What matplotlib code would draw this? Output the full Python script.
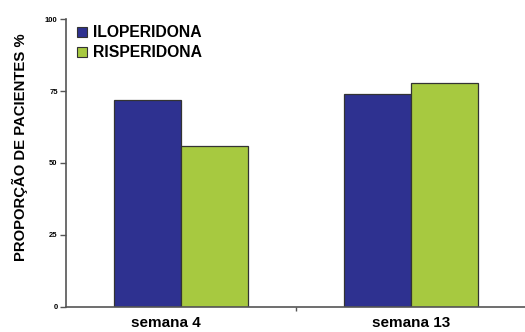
import matplotlib
matplotlib.use("Agg")
import matplotlib.pyplot as plt
import matplotlib.transforms as mtransforms
import numpy as np
from matplotlib.lines import Line2D

plt.rcParams['font.family'] = ['Liberation Sans', 'DejaVu Sans']

categories = ["semana 4", "semana 13"]
series_names = ["ILOPERIDONA", "RISPERIDONA"]
iloperidona = [72, 74]
risperidona = [56, 78]
yticks = [0, 25, 50, 75, 100]
colors = ["#2E3190", "#A7C940"]

fig = plt.figure(figsize=(5.25, 3.32), dpi=100)
ax = fig.add_axes([0.1257, 0.0768, 0.876, 0.8645])

x = np.arange(len(categories))
w = 0.29
for vals, off, c in zip([iloperidona, risperidona], [-w / 2, w / 2], colors):
    ax.bar(x + off, vals, width=w, color=c, edgecolor="#333333", linewidth=0.9, zorder=2)

ax.set_xlim(-0.5, 1.5)
ax.set_ylim(0, 100)
ax.set_yticks(yticks)
ax.set_yticklabels([str(t) for t in yticks], fontsize=5.5, fontweight="bold")
ax.set_xticks(x)
ax.set_xticklabels(categories, fontsize=11, fontweight="bold")
ax.tick_params(axis="x", length=0, pad=7)
ax.set_xticks([0.5], minor=True)
ax.tick_params(axis="x", which="minor", length=3, width=1, color="#555555", direction="out")
ax.tick_params(axis="y", length=4, width=1, color="#555555", pad=2)

# first category label sits a little left of its bar pair
first = ax.get_xticklabels()[0]
first.set_transform(first.get_transform() +
                    mtransforms.ScaledTranslation(-0.15, 0, fig.dpi_scale_trans))

for s in ["top", "right"]:
    ax.spines[s].set_visible(False)
for s in ["left", "bottom"]:
    ax.spines[s].set_color("#555555")
    ax.spines[s].set_linewidth(1.2)

ax.set_ylabel("PROPORÇÃO DE PACIENTES %", fontsize=10.7, fontweight="bold")
ax.yaxis.set_label_coords(-0.083, 0.556)

handles = [Line2D([], [], marker="s", linestyle="none", markersize=7,
                  markerfacecolor=c, markeredgecolor="#333333", markeredgewidth=0.8)
           for c in colors]
leg = ax.legend(handles, series_names, loc="upper left", bbox_to_anchor=(-0.012, 1.03),
                frameon=False, prop={"weight": "bold", "size": 11.3},
                handletextpad=0.2, labelspacing=0.35, handlelength=1.0)

fig.savefig("out.png", dpi=100)
